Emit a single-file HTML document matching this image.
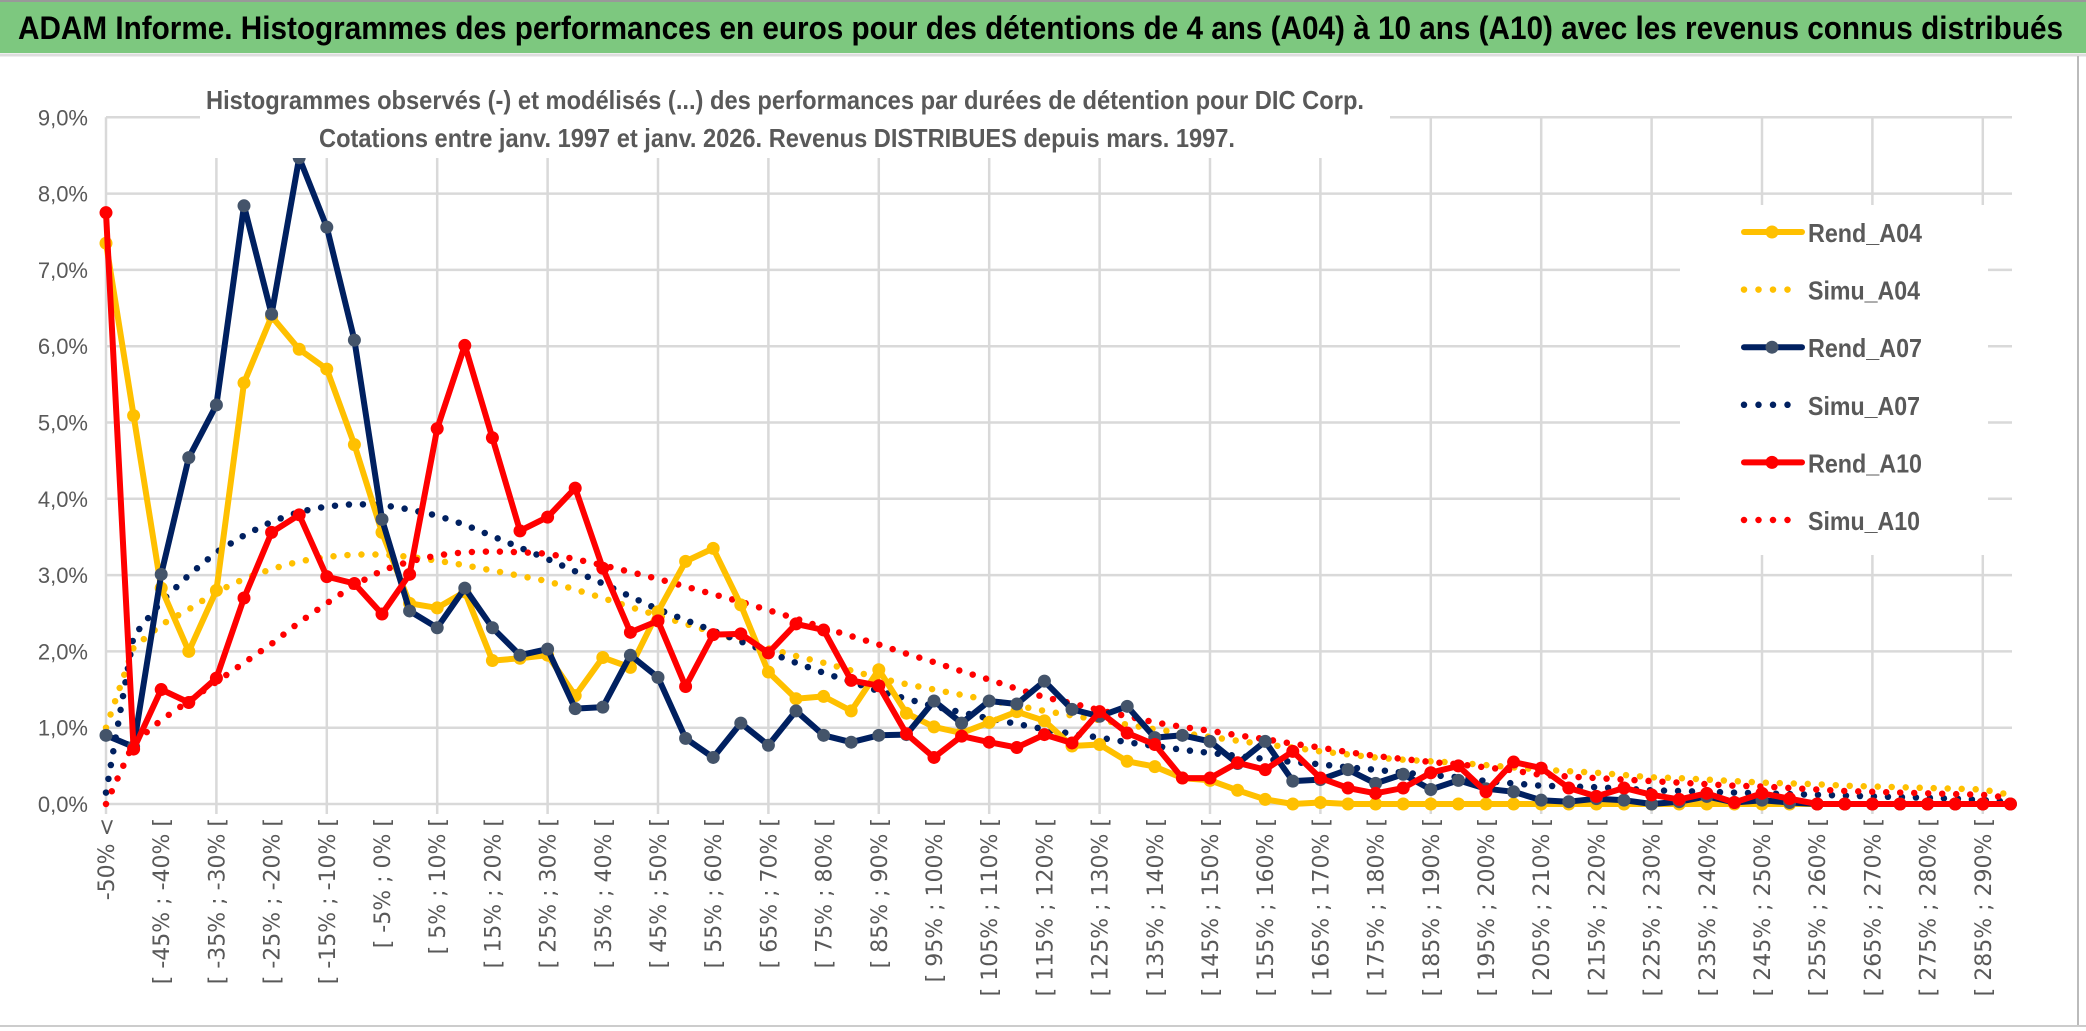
<!DOCTYPE html>
<html><head><meta charset="utf-8"><style>
html,body{margin:0;padding:0;background:#fff;}
svg{display:block;font-family:"Liberation Sans",sans-serif;}
</style></head><body>
<svg id="chart" width="2086" height="1031" viewBox="0 0 2086 1031" xmlns="http://www.w3.org/2000/svg">
<rect x="0" y="0" width="2086" height="1031" fill="#fff"/>
<rect x="0" y="0" width="2086" height="53" fill="#7DC87F"/>
<line x1="0" y1="1" x2="2086" y2="1" stroke="#999" stroke-width="2"/>
<line x1="0" y1="55" x2="2086" y2="55" stroke="#ddd" stroke-width="3"/>
<text x="18" y="39" font-size="32" font-weight="bold" fill="#000" textLength="2045" lengthAdjust="spacingAndGlyphs">ADAM Informe. Histogrammes des performances en euros pour des détentions de 4 ans (A04) à 10 ans (A10) avec les revenus connus distribués</text>
<line x1="2078" y1="56" x2="2078" y2="1026" stroke="#bbb" stroke-width="2"/>
<line x1="0" y1="1026" x2="2086" y2="1026" stroke="#ccc" stroke-width="2"/>
<g id="grid"></g>
<g id="axes"></g>
<g id="series"></g>
<rect x="200" y="76" width="1190" height="82" fill="#fff"/>
<text x="785" y="109" text-anchor="middle" font-size="26" font-weight="bold" fill="#595959" textLength="1158" lengthAdjust="spacingAndGlyphs">Histogrammes observés (-) et modélisés (...) des performances par durées de détention pour DIC Corp.</text>
<text x="777" y="147" text-anchor="middle" font-size="26" font-weight="bold" fill="#595959" textLength="916" lengthAdjust="spacingAndGlyphs">Cotations entre janv. 1997 et janv. 2026. Revenus DISTRIBUES depuis mars. 1997.</text>
<g id="legend"></g>
</svg>
<script>
const categoryLabels = [];
const rendA04 = [7.35,5.09,2.83,2.0,2.8,5.52,6.39,5.96,5.7,4.71,3.56,2.63,2.57,2.78,1.88,
1.91,1.95,1.42,1.92,1.79,2.52,3.18,3.35,2.61,1.73,1.38,1.41,1.22,1.76,1.19,1.01,
0.93,1.07,1.21,1.09,0.76,0.78,0.56,0.49,0.34,0.31,0.18,0.06,0,0.02,0,0,0,0,0,
0,0,0,0,0,0,0,0,0,0,0,0,0,0,0,0,0,0,0,0];
const rendA07 = [0.90,0.75,3.01,4.54,5.23,7.84,6.42,8.47,7.56,6.08,3.73,2.53,2.31,2.83,2.31,
1.95,2.03,1.25,1.27,1.95,1.66,0.86,0.61,1.06,0.77,1.22,0.90,0.81,0.90,0.91,1.35,
1.06,1.35,1.31,1.61,1.24,1.15,1.28,0.87,0.90,0.82,0.53,0.82,0.30,0.32,0.45,0.27,0.39,0.19,0.31,
0.20,0.16,0.05,0.03,0.07,0.05,0,0.03,0.10,0.02,0.05,0.02,0,0,0,0,0,0,0,0];
const rendA10 = [7.75,0.72,1.50,1.33,1.65,2.70,3.56,3.79,2.98,2.89,2.49,3.01,4.92,6.01,4.80,
3.58,3.76,4.14,3.09,2.25,2.40,1.54,2.22,2.23,1.98,2.36,2.28,1.62,1.55,0.92,0.61,
0.89,0.81,0.74,0.91,0.80,1.21,0.93,0.78,0.34,0.34,0.54,0.45,0.69,0.34,0.21,0.14,0.21,0.41,0.50,
0.16,0.55,0.47,0.21,0.10,0.21,0.12,0.06,0.14,0.02,0.14,0.07,0,0,0,0,0,0,0,0];
const simuA04 = [1.0,2.05,2.35,2.55,2.78,2.95,3.08,3.18,3.24,3.27,3.27,3.24,3.19,3.13,3.06,
2.99,2.92,2.81,2.70,2.58,2.47,2.36,2.25,2.14,2.04,1.94,1.85,1.75,1.65,1.57,1.50,
1.43,1.36,1.29,1.22,1.16,1.10,1.04,0.98,0.93,0.88,0.83,0.78,0.74,0.69,0.65,0.61,0.58,0.56,0.54,
0.51,0.48,0.45,0.43,0.41,0.38,0.35,0.34,0.32,0.30,0.28,0.27,0.26,0.24,0.23,0.22,0.21,0.20,0.19,0.12];
const simuA07 = [0.15,2.2,2.65,3.0,3.3,3.52,3.7,3.83,3.9,3.93,3.92,3.86,3.78,3.66,3.51,
3.36,3.21,3.05,2.89,2.72,2.55,2.41,2.27,2.13,1.99,1.85,1.72,1.60,1.48,1.38,1.28,
1.20,1.12,1.05,0.98,0.92,0.87,0.81,0.76,0.71,0.67,0.63,0.59,0.55,0.52,0.48,0.45,0.41,0.38,0.35,
0.30,0.27,0.24,0.23,0.22,0.20,0.18,0.17,0.16,0.15,0.14,0.13,0.12,0.11,0.10,0.09,0.08,0.07,0.05,0.03];
const simuA10 = [0.0,0.8,1.1,1.35,1.6,1.85,2.1,2.38,2.63,2.87,3.06,3.18,3.26,3.3,3.31,
3.3,3.28,3.21,3.13,3.04,2.95,2.85,2.75,2.65,2.54,2.43,2.31,2.20,2.09,1.97,1.86,
1.74,1.63,1.51,1.40,1.32,1.23,1.15,1.07,1.01,0.96,0.90,0.85,0.79,0.74,0.68,0.63,0.59,0.55,0.52,
0.48,0.44,0.38,0.36,0.34,0.32,0.30,0.28,0.26,0.24,0.23,0.21,0.19,0.17,0.16,0.15,0.14,0.13,0.12,0.08];
const yTicks = [0,1,2,3,4,5,6,7,8,9];
const seriesNames = ["Rend_A04","Simu_A04","Rend_A07","Simu_A07","Rend_A10","Simu_A10"];

categoryLabels.push("-50% <");
for (let k = 1; k < 70; k++) { const a = -55 + 5*k; categoryLabels.push("[ " + a + "% ; " + (a+5) + "% ["); }

const NS = "http://www.w3.org/2000/svg";
const X0 = 106, STEP = 27.6, Y0 = 804, YPER = 76.3;
const xs = i => X0 + i*STEP;
const ys = v => Y0 - v*YPER;
function mk(tag, attrs, parent){ const e=document.createElementNS(NS,tag); for(const k in attrs) e.setAttribute(k,attrs[k]); parent.appendChild(e); return e; }

const grid = document.getElementById("grid");
yTicks.forEach(t => {
  const l = mk("line",{x1:X0,y1:ys(t),x2:2012,y2:ys(t),stroke:"#d9d9d9","stroke-width":2.5},grid);
  
  
});
for (let i = 4; i < categoryLabels.length; i += 4) {
  const l = mk("line",{x1:xs(i),y1:ys(9),x2:xs(i),y2:Y0+10,stroke:"#d9d9d9","stroke-width":2.5},grid);
  
  
}
const axes = document.getElementById("axes");
const ya = mk("line",{x1:X0,y1:ys(9),x2:X0,y2:Y0+10,stroke:"#d9d9d9","stroke-width":2.5},axes);


yTicks.forEach(t => {
  const tx = mk("text",{x:88,y:ys(t)+8,"text-anchor":"end","font-size":22,fill:"#595959"},axes);
  tx.textContent = t.toFixed(1).replace(".",",") + "%";
  
  
});
for (let i = 0; i < categoryLabels.length; i += 2) {
  const tx = mk("text",{x:0,y:0,"text-anchor":"end","font-size":22,"font-family":"DejaVu Sans, sans-serif",fill:"#595959",transform:"translate("+(xs(i)+8)+",818) rotate(-90)"},axes);
  tx.textContent = categoryLabels[i];
  
  
}

const sg = document.getElementById("series");
function pts(arr){ return arr.map((v,i)=>xs(i).toFixed(1)+","+ys(v).toFixed(1)).join(" "); }
function dotted(arr,color,name){
  const p = mk("polyline",{points:pts(arr),fill:"none",stroke:color,"stroke-width":6.5,"stroke-linecap":"round","stroke-dasharray":"0 14"},sg);
  
  
}
function solid(arr,color,mcolor,name){
  const p = mk("polyline",{points:pts(arr),fill:"none",stroke:color,"stroke-width":6,"stroke-linejoin":"round"},sg);
  
  
  arr.forEach((v,i)=>{
    const c = mk("circle",{cx:xs(i),cy:ys(v),r:6.5,fill:mcolor},sg);
    
    
  });
}
dotted(simuA04,"#FFC000","simu-a04-line");
dotted(simuA07,"#002060","simu-a07-line");
dotted(simuA10,"#FF0000","simu-a10-line");
solid(rendA04,"#FFC000","#FFC000","rend-a04-line");
solid(rendA07,"#002060","#44546A","rend-a07-line");
solid(rendA10,"#FF0000","#FF0000","rend-a10-line");

const lg = document.getElementById("legend");
const bg = mk("rect",{x:1680,y:205,width:308,height:350,fill:"#fff"},lg);


const lcolors = ["#FFC000","#FFC000","#002060","#002060","#FF0000","#FF0000"];
const lmark = ["#FFC000",null,"#44546A",null,"#FF0000",null];
seriesNames.forEach((n,i)=>{
  const y = 232 + i*57.6;
  const g = mk("g",{},lg);
  
  
  if (lmark[i]) {
    mk("line",{x1:1744,y1:y,x2:1802,y2:y,stroke:lcolors[i],"stroke-width":6,"stroke-linecap":"round"},g);
    mk("circle",{cx:1772,cy:y,r:6.5,fill:lmark[i]},g);
  } else {
    mk("line",{x1:1744,y1:y,x2:1800,y2:y,stroke:lcolors[i],"stroke-width":6.5,"stroke-linecap":"round","stroke-dasharray":"0 14.5"},g);
  }
  const t = mk("text",{x:1808,y:y+10,"font-size":26,fill:"#595959","font-weight":"bold",textLength:i%2?112:114,lengthAdjust:"spacingAndGlyphs"},g);
  t.textContent = n;
});
</script>
</body></html>
